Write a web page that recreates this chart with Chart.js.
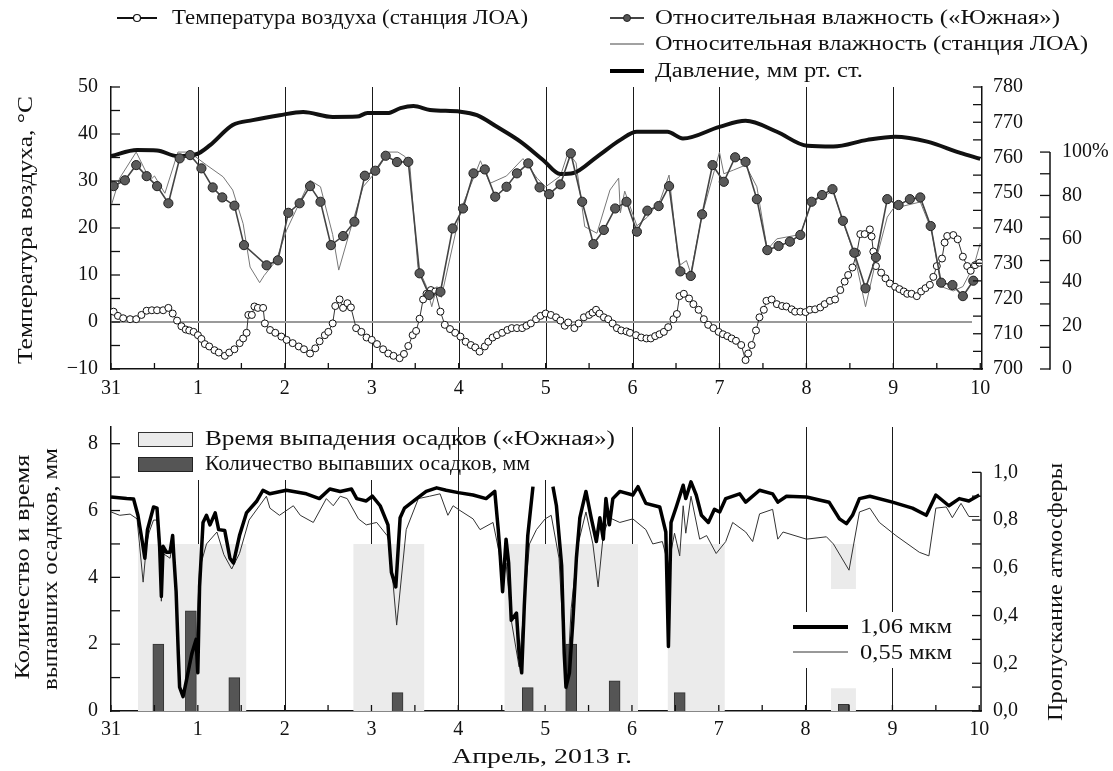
<!DOCTYPE html>
<html><head><meta charset="utf-8">
<script src="https://cdn.jsdelivr.net/npm/chart.js@4.4.1/dist/chart.umd.min.js"></script>
<style>
html,body{margin:0;padding:0;background:#fff;}
#wrap{position:relative;width:1113px;height:771px;overflow:hidden;font-family:"Liberation Serif","Times New Roman","DejaVu Serif",serif;color:#111;}
.box{position:absolute;}
.lbl{position:absolute;white-space:nowrap;font-size:20px;line-height:22px;color:#111;}
svg{position:absolute;left:0;top:0;}
</style></head><body>
<div id="wrap">
 <div class="box" style="left:0;top:0;width:1113px;height:400px"><canvas id="c1"></canvas></div>
 <div class="box" style="left:0;top:400px;width:1113px;height:371px"><canvas id="c2"></canvas></div>
 <svg width="1113" height="771" viewBox="0 0 1113 771">
  <rect x="128" y="427" width="328" height="53" fill="#fff"/>
  <rect x="462" y="427" width="158" height="53" fill="#fff"/>
  <rect x="790" y="612" width="168" height="56" fill="#fff"/>
  <line x1="117" y1="18" x2="157" y2="18" stroke="#111" stroke-width="2"/>
  <circle cx="137" cy="18" r="3.5" fill="#fff" stroke="#111" stroke-width="1.2"/>
  <line x1="610" y1="18" x2="644" y2="18" stroke="#444" stroke-width="2"/>
  <circle cx="627" cy="18" r="3.5" fill="#555" stroke="#222" stroke-width="1"/>
  <line x1="610" y1="44" x2="644" y2="44" stroke="#444" stroke-width="1"/>
  <line x1="610" y1="71" x2="644" y2="71" stroke="#000" stroke-width="4"/>
  <rect x="138.5" y="432.5" width="54" height="14" fill="#ebebeb" stroke="#333" stroke-width="1"/>
  <rect x="138.5" y="457.5" width="54" height="14" fill="#555" stroke="#222" stroke-width="1"/>
  <line x1="793" y1="627" x2="848" y2="627" stroke="#000" stroke-width="4"/>
  <line x1="793" y1="652" x2="848" y2="652" stroke="#333" stroke-width="1"/>
 </svg>
</div>
<script>
// ---------------- DATA ----------------
const dayLabels = ['31','1','2','3','4','5','6','7','8','9','10'];

const pressDays = [0,0.30,0.53,0.76,0.99,1.14,1.40,1.63,1.94,2.21,2.55,2.83,2.95,3.18,3.33,3.48,3.67,4.02,4.21,4.44,4.71,4.97,5.17,5.32,5.59,5.86,6.05,6.40,6.58,7.00,7.30,7.66,8.01,8.31,8.70,9.02,9.39,9.77,10.0];
const pressVals = [760.4,762.1,762.0,760.4,761.0,763.5,769.2,770.6,772.0,772.9,771.5,771.6,772.6,772.6,774.0,774.6,773.5,773.0,772.0,768.7,764.5,759.3,755.3,755.6,760.2,765.0,767.3,767.3,765.4,768.7,770.4,767.3,763.3,763.1,765.0,765.9,764.5,761.3,759.6];

const humSDays = [0.03,0.16,0.29,0.41,0.53,0.66,0.79,0.91,1.04,1.17,1.28,1.42,1.53,1.79,1.92,2.04,2.17,2.29,2.41,2.53,2.67,2.80,2.92,3.04,3.16,3.29,3.42,3.55,3.66,3.79,3.93,4.05,4.17,4.30,4.42,4.55,4.67,4.80,4.93,5.04,5.17,5.29,5.42,5.55,5.67,5.80,5.93,6.05,6.17,6.30,6.42,6.55,6.67,6.80,6.92,7.05,7.18,7.30,7.43,7.55,7.68,7.81,7.93,8.06,8.18,8.30,8.42,8.55,8.68,8.80,8.93,9.06,9.19,9.31,9.43,9.55,9.68,9.80,9.92];
const humSVals = [84.3,87,94,88.9,84.3,76.4,97.1,98.6,92.5,83.7,79.1,75.3,57.1,47.8,50.1,72,76.4,84.3,77.1,57.1,61.3,67.9,89.1,91.4,98.3,95.4,95.5,44.1,34.1,35.6,64.8,74,90.2,92,79.4,84,90.2,94.8,83.7,80.6,85.1,99.4,77.1,57.6,64.1,74,77.1,63.3,73,75.1,84.3,45,42.9,71.3,94,86.3,97.6,95.5,78.3,54.8,56.7,58.7,61.8,77.1,80.2,82.9,68.3,53.6,37.2,51.5,78.3,75.6,78.3,79.1,65.9,39.8,38.7,33.6,40.7];

const humLDays = [0,0.10,0.29,0.45,0.50,0.62,0.77,0.90,1.10,1.29,1.40,1.52,1.60,1.71,1.76,1.90,2.02,2.29,2.41,2.55,2.62,2.73,2.90,3.05,3.19,3.30,3.38,3.44,3.53,3.63,3.69,3.75,3.80,4.02,4.25,4.36,4.55,4.74,4.90,5.00,5.17,5.26,5.35,5.45,5.59,5.74,5.84,5.86,5.91,6.05,6.17,6.32,6.42,6.52,6.55,6.62,6.67,6.80,7.00,7.05,7.16,7.30,7.43,7.55,7.66,7.93,8.06,8.31,8.42,8.55,8.68,8.80,8.93,9.00,9.31,9.44,9.55,9.69,9.80,9.93,10.0];
const humLVals = [75,88,100,87,89,81,100,100,94,88.6,82.5,67,47,39.8,43,50,64,87,84,62,45.6,61,84,91,100,100,98,93,47,38,28.7,38,33,73,96,85.6,89,97,88,84,89,100,95,65.6,62.6,82.5,88,72,82,66,70,78,89.4,52,48,50,44,71,100,90,91.7,94,84,55,60,62,77,82,68,53,28.7,50,70,74,77,64,38,36,38,48,58];

const tempDays = [0.03,0.08,0.14,0.22,0.29,0.35,0.41,0.47,0.53,0.60,0.66,0.71,0.76,0.81,0.86,0.90,0.95,1.00,1.04,1.08,1.13,1.19,1.24,1.31,1.36,1.42,1.48,1.52,1.56,1.58,1.62,1.65,1.69,1.75,1.77,1.83,1.89,1.96,2.02,2.09,2.16,2.22,2.29,2.35,2.40,2.46,2.50,2.55,2.58,2.63,2.67,2.72,2.76,2.82,2.88,2.94,3.00,3.06,3.13,3.19,3.25,3.32,3.37,3.42,3.47,3.51,3.55,3.59,3.63,3.68,3.73,3.79,3.84,3.90,3.96,4.02,4.08,4.14,4.19,4.24,4.30,4.34,4.39,4.44,4.50,4.56,4.61,4.67,4.73,4.78,4.83,4.89,4.94,5.00,5.06,5.12,5.17,5.22,5.26,5.33,5.38,5.44,5.50,5.54,5.58,5.62,5.67,5.72,5.77,5.82,5.87,5.93,5.97,6.04,6.10,6.16,6.21,6.26,6.31,6.36,6.41,6.47,6.51,6.54,6.59,6.65,6.70,6.76,6.82,6.87,6.93,6.99,7.04,7.09,7.14,7.19,7.25,7.30,7.33,7.37,7.42,7.46,7.51,7.54,7.60,7.66,7.72,7.77,7.83,7.87,7.93,7.99,8.04,8.10,8.16,8.21,8.27,8.33,8.39,8.44,8.48,8.53,8.58,8.62,8.67,8.73,8.75,8.77,8.80,8.86,8.91,8.96,9.02,9.07,9.12,9.16,9.21,9.27,9.32,9.37,9.42,9.46,9.50,9.56,9.59,9.62,9.69,9.74,9.80,9.85,9.89,9.94,9.99];
const tempVals = [2.2,1.3,0.8,0.6,0.6,1.5,2.4,2.5,2.5,2.5,3.0,1.8,0.3,-0.9,-1.6,-1.8,-2.1,-2.8,-3.6,-4.7,-5.2,-6.0,-6.5,-7.2,-6.5,-5.8,-4.5,-3.5,-2.3,1.5,1.5,3.3,3.0,3.0,-0.3,-1.7,-2.3,-3.1,-3.8,-4.5,-5.2,-5.8,-6.7,-5.6,-4.1,-2.8,-2.1,-0.3,3.4,4.8,3.0,4.0,3.1,-1.3,-2.1,-3.3,-3.8,-4.7,-5.8,-6.7,-7.2,-7.7,-6.8,-5.1,-2.8,-1.9,0.7,4.8,6.0,6.8,6.5,2.2,-0.6,-1.5,-2.3,-3.1,-4.2,-4.9,-5.4,-6.3,-5.2,-4.2,-3.3,-2.8,-2.3,-1.7,-1.3,-1.3,-1.3,-0.8,-0.3,0.6,1.3,1.8,1.5,1.0,0.3,-0.8,-0.1,-1.3,-0.3,1.0,1.5,2.0,2.6,1.8,1.0,0.6,-0.3,-1.3,-1.8,-2.0,-2.3,-2.8,-3.3,-3.5,-3.5,-3.0,-2.6,-2.1,-1.1,0.6,1.7,5.5,6.0,5.0,3.8,2.6,0.6,-0.6,-1.3,-2.1,-2.6,-3.0,-3.5,-4.0,-4.9,-8.1,-6.7,-4.9,-1.8,1.0,2.6,4.5,4.8,3.8,3.4,3.3,2.7,2.2,2.2,2.1,2.6,2.7,3.1,3.8,4.5,4.8,6.8,8.6,10.0,11.6,14.7,18.7,18.7,19.7,18.2,15.0,11.9,10.5,9.3,8.2,7.5,7.0,6.5,6.0,6.0,5.5,6.5,7.2,7.9,9.6,11.9,13.5,16.9,18.3,18.5,17.6,13.9,11.9,10.9,12.1,12.6];

const t106Days = [0,0.18,0.26,0.31,0.36,0.39,0.42,0.49,0.53,0.56,0.58,0.60,0.64,0.68,0.71,0.725,0.75,0.775,0.79,0.83,0.87,0.93,0.98,1.00,1.02,1.06,1.10,1.14,1.20,1.24,1.31,1.37,1.41,1.48,1.56,1.68,1.75,1.83,2.02,2.25,2.40,2.52,2.64,2.77,2.83,2.94,3.01,3.10,3.19,3.23,3.28,3.33,3.38,3.52,3.63,3.75,3.86,4.00,4.17,4.32,4.42,4.46,4.48,4.51,4.55,4.58,4.61,4.67,4.70,4.73,4.76,4.80,4.86,4.97,5.09,5.13,5.19,5.22,5.24,5.28,5.32,5.36,5.40,5.47,5.53,5.59,5.63,5.67,5.70,5.74,5.78,5.86,6.01,6.07,6.16,6.32,6.39,6.42,6.45,6.51,6.59,6.62,6.68,6.74,6.80,6.88,6.95,7.01,7.08,7.24,7.31,7.47,7.62,7.68,7.78,8.01,8.27,8.39,8.47,8.54,8.62,8.74,9.00,9.23,9.39,9.50,9.65,9.77,9.88,10.0];
const t106Vals = [0.897,0.89,0.888,0.82,0.71,0.64,0.76,0.855,0.85,0.69,0.48,0.69,0.665,0.665,0.735,0.64,0.50,0.24,0.10,0.06,0.13,0.24,0.30,0.16,0.52,0.79,0.82,0.78,0.83,0.76,0.756,0.64,0.62,0.735,0.83,0.88,0.925,0.91,0.925,0.91,0.89,0.93,0.92,0.93,0.89,0.88,0.90,0.86,0.78,0.58,0.52,0.81,0.85,0.89,0.92,0.935,0.925,0.915,0.905,0.89,0.92,0.76,0.665,0.50,0.72,0.62,0.38,0.41,0.24,0.16,0.44,0.735,0.94,null,0.94,0.86,0.61,0.24,0.10,0.16,0.38,0.64,0.81,0.92,0.81,0.71,0.81,0.72,0.89,0.78,0.89,0.92,0.905,0.94,0.87,0.855,0.75,0.27,0.79,0.855,0.946,0.89,0.96,0.905,0.82,0.79,0.845,0.834,0.89,0.91,0.875,0.925,0.91,0.875,0.90,0.897,0.875,0.805,0.785,0.82,0.89,0.90,0.875,0.85,0.82,0.905,0.86,0.89,0.88,0.905];

const t055Days = [0,0.10,0.22,0.30,0.37,0.41,0.44,0.49,0.53,0.56,0.58,0.60,0.68,0.71,0.75,0.79,0.83,0.87,0.93,0.98,1.02,1.10,1.22,1.30,1.39,1.48,1.59,1.71,1.79,1.83,1.94,2.10,2.18,2.33,2.48,2.56,2.64,2.72,2.85,2.94,3.06,3.18,3.21,3.29,3.40,3.54,3.67,3.79,3.88,3.94,4.02,4.17,4.25,4.40,4.47,4.51,4.55,4.61,4.70,4.76,4.82,4.90,5.00,5.07,5.16,5.22,5.25,5.30,5.38,5.47,5.55,5.61,5.67,5.74,5.86,6.01,6.16,6.24,6.35,6.42,6.49,6.55,6.59,6.62,6.68,6.78,6.86,6.97,7.08,7.16,7.31,7.39,7.47,7.62,7.68,7.74,8.01,8.24,8.32,8.50,8.62,8.74,8.85,9.04,9.31,9.42,9.50,9.62,9.69,9.79,9.88,10.0];
const t055Vals = [0.834,0.82,0.825,0.805,0.54,0.70,0.75,0.80,0.80,0.66,0.46,0.66,0.64,0.70,0.48,0.10,0.06,0.12,0.22,0.28,0.595,0.70,0.75,0.655,0.595,0.66,0.80,0.86,0.90,0.85,0.82,0.86,0.82,0.79,0.89,0.86,0.90,0.89,0.805,0.78,0.79,0.735,0.70,0.36,0.76,0.89,0.90,0.91,0.82,0.86,0.84,0.805,0.76,0.79,0.665,0.52,0.62,0.38,0.185,0.45,0.70,0.76,0.805,0.82,0.64,0.24,0.09,0.43,0.70,0.834,0.70,0.52,0.74,0.81,0.79,0.805,0.76,0.70,0.71,0.61,0.745,0.65,0.86,0.745,0.90,0.72,0.735,0.66,0.71,0.79,0.75,0.71,0.826,0.845,0.72,0.75,0.72,0.73,0.70,0.59,0.834,0.85,0.79,0.735,0.665,0.65,0.85,0.855,0.81,0.87,0.815,0.815];

const precDays = [0.545,0.92,1.42,3.30,4.80,5.30,5.80,6.55,8.44];
const precVals = [2.0,3.0,1.0,0.55,0.7,2.0,0.9,0.55,0.2];

const rainStart = [0.31,2.79,4.53,6.41,8.29,8.29];
const rainEnd   = [1.56,3.61,6.07,7.07,8.58,8.58];
const rainLow   = [0,0,0,0,3.65,0];
const rainHigh  = [5,5,5,5,5,0.68];

// ---------------- HELPERS ----------------
const pts = (xs, ys) => xs.map((x, i) => ({x, y: ys[i]}));
const dayLines = [1,2,3,4,5,6,7,8,9];

Chart.defaults.font.family = '"Liberation Serif", "Times New Roman", "DejaVu Serif", serif';
Chart.defaults.font.size = 20;
Chart.defaults.color = '#111';

const axisDecor = {
  id: 'axisDecor',
  beforeDatasetsDraw(chart, args, o) {
    const {ctx, chartArea: ca, scales} = chart;
    ctx.save();
    ctx.strokeStyle = '#1a1a1a'; ctx.lineWidth = 1;
    for (const d of o.dayLines) {
      const px = Math.round(scales.x.getPixelForValue(d)) + 0.5;
      ctx.beginPath(); ctx.moveTo(px, ca.top); ctx.lineTo(px, ca.bottom); ctx.stroke();
    }
    if (o.zero) {
      const py = scales[o.zero.scale].getPixelForValue(o.zero.value);
      ctx.strokeStyle = '#9a9a9a'; ctx.lineWidth = 2;
      ctx.beginPath(); ctx.moveTo(ca.left, py); ctx.lineTo(ca.right - 10, py); ctx.stroke();
    }
    ctx.restore();
  },
  afterDraw(chart, args, o) {
    const {ctx, chartArea: ca, scales} = chart;
    ctx.save(); ctx.strokeStyle = '#111';
    for (const m of o.marks) {
      const s = scales[m.scale];
      const n = Math.round((m.to - m.from) / m.step);
      ctx.lineWidth = 1.3;
      for (let i = 0; i <= n; i++) {
        const v = m.from + i * m.step;
        const p = s.getPixelForValue(v);
        ctx.beginPath();
        if (m.side === 'bottom') { ctx.moveTo(p, ca.bottom); ctx.lineTo(p, ca.bottom - m.len); }
        else {
          const x0 = m.side === 'left' ? ca.left : (m.side === 'right' ? ca.right : s.left);
          const dir = m.side === 'left' ? 1 : -1;
          ctx.moveTo(x0, p); ctx.lineTo(x0 + dir * m.len, p);
        }
        ctx.stroke();
      }
      if (m.spine) {
        const x0 = m.side === 'right' ? ca.right : s.left;
        ctx.lineWidth = 1.5;
        ctx.beginPath();
        ctx.moveTo(x0, s.getPixelForValue(m.from) + 0.75);
        ctx.lineTo(x0, s.getPixelForValue(m.to));
        ctx.stroke();
      }
    }
    ctx.restore();
  }
};

const xAxis = (pad, h) => ({
  type: 'linear', min: 0, max: 10.02, position: 'bottom', offset: false,
  grid: {display: false, drawTicks: false},
  border: {display: true, color: '#111', width: 1.5},
  ticks: {stepSize: 1, includeBounds: false, autoSkip: false, maxRotation: 0, padding: pad,
          callback: v => Number.isInteger(v) ? dayLabels[v] : ''},
  afterFit: s => { s.height = h; }
});

// ---------------- TOP CHART ----------------
new Chart(document.getElementById('c1'), {
  type: 'line',
  data: {datasets: [
    {label: 'Относительная влажность («Южная»)', data: pts(humSDays, humSVals), yAxisID: 'yH',
     borderColor: '#444', borderWidth: 1.6, pointRadius: 4.6, pointBackgroundColor: '#5a5a5a',
     pointBorderColor: '#222', pointBorderWidth: 1, tension: 0, order: 1},
    {label: 'Давление, мм рт. ст.', data: pts(pressDays, pressVals), yAxisID: 'yP',
     borderColor: '#111', borderWidth: 4, pointRadius: 0, cubicInterpolationMode: 'monotone', order: 2},
    {label: 'Температура воздуха (станция ЛОА)', data: pts(tempDays, tempVals), yAxisID: 'yT',
     borderColor: '#333', borderWidth: 1, pointRadius: 3.5, pointBackgroundColor: '#fff',
     pointBorderColor: '#111', pointBorderWidth: 1, tension: 0, order: 3},
    {label: 'Относительная влажность (станция ЛОА)', data: pts(humLDays, humLVals), yAxisID: 'yH',
     borderColor: '#777', borderWidth: 1, pointRadius: 0, tension: 0, order: 4}
  ]},
  options: {
    responsive: true, maintainAspectRatio: false, animation: false, devicePixelRatio: 1,
    layout: {padding: {top: 87, left: 0, right: 0, bottom: 0}},
    plugins: {legend: {display: false}, tooltip: {enabled: false},
      axisDecor: {dayLines, zero: {scale: 'yT', value: 0}, marks: [
        {scale: 'x', side: 'bottom', from: 0, to: 10, step: 0.5, len: 6},
        {scale: 'yT', side: 'left', from: -10, to: 50, step: 5, len: 9},
        {scale: 'yP', side: 'right', from: 700, to: 780, step: 5, len: 9},
        {scale: 'yH', side: 'outer', from: 0, to: 100, step: 10, len: 10, spine: true}
      ]}},
    scales: {
      x: xAxis(8, 31),
      yT: {type: 'linear', position: 'left', min: -10, max: 50,
           grid: {display: false, drawTicks: false}, border: {display: true, color: '#111', width: 1.5},
           ticks: {stepSize: 10, padding: 13, callback: v => v < 0 ? '\u2212' + Math.abs(v) : String(v)},
           afterFit: s => { s.width = 111; }},
      yP: {type: 'linear', position: 'right', weight: 0, min: 700, max: 780,
           grid: {display: false, drawTicks: false}, border: {display: true, color: '#111', width: 1.5},
           ticks: {stepSize: 10, padding: 11}, afterFit: s => { s.width = 68; }},
      yH: {type: 'linear', position: 'right', weight: 1, min: 0, max: 130,
           grid: {display: false, drawTicks: false}, border: {display: false},
           ticks: {stepSize: 20, padding: 12, callback: v => v > 100 ? '' : (v === 100 ? '100%' : String(v))},
           afterFit: s => { s.width = 63; }}
    }
  },
  plugins: [axisDecor]
});

// ---------------- BOTTOM CHART ----------------
const rainSets = rainStart.map((s, i) => ({
  type: 'line', label: i === 0 ? 'Время выпадения осадков («Южная»)' : '',
  data: [{x: s, y: rainLow[i]}, {x: s, y: rainHigh[i]}, {x: rainEnd[i], y: rainHigh[i]}, {x: rainEnd[i], y: rainLow[i]}],
  yAxisID: 'yR', fill: {value: rainLow[i]}, backgroundColor: '#ebebeb',
  borderColor: 'rgba(0,0,0,0)', borderWidth: 0, pointRadius: 0, tension: 0, order: 10
}));

new Chart(document.getElementById('c2'), {
  type: 'line',
  data: {datasets: [
    ...rainSets,
    {type: 'bar', label: 'Количество выпавших осадков, мм', data: pts(precDays, precVals), yAxisID: 'yR',
     backgroundColor: '#555', borderColor: '#333', borderWidth: 1, barThickness: 11, order: 5},
    {label: '0,55 мкм', data: pts(t055Days, t055Vals), yAxisID: 'yTr', borderColor: '#333',
     borderWidth: 1, pointRadius: 0, tension: 0, order: 2},
    {label: '1,06 мкм', data: pts(t106Days, t106Vals), yAxisID: 'yTr', borderColor: '#000',
     borderWidth: 3.5, pointRadius: 0, tension: 0, spanGaps: false, borderJoinStyle: 'round', order: 1}
  ]},
  options: {
    responsive: true, maintainAspectRatio: false, animation: false, devicePixelRatio: 1,
    layout: {padding: {top: 27, left: 0, right: 0, bottom: 0}},
    plugins: {legend: {display: false}, tooltip: {enabled: false},
      axisDecor: {dayLines, marks: [
        {scale: 'x', side: 'bottom', from: 0, to: 10, step: 0.5, len: 6},
        {scale: 'yR', side: 'left', from: 0, to: 8, step: 1, len: 9},
        {scale: 'yTr', side: 'right', from: 0, to: 1.0, step: 0.1, len: 9, spine: true}
      ]}},
    scales: {
      x: xAxis(7, 60),
      yR: {type: 'linear', position: 'left', min: 0, max: 8.5,
           grid: {display: false, drawTicks: false}, border: {display: true, color: '#111', width: 1.5},
           ticks: {stepSize: 2, includeBounds: false, padding: 13}, afterFit: s => { s.width = 111; }},
      yTr: {type: 'linear', position: 'right', min: 0, max: 1.19,
           grid: {display: false, drawTicks: false}, border: {display: false},
           ticks: {stepSize: 0.2, includeBounds: false, padding: 12,
                   callback: v => v > 1.0001 ? '' : v.toFixed(1).replace('.', ',')},
           afterFit: s => { s.width = 132; }}
    }
  },
  plugins: [axisDecor]
});

// ---------------- TEXT (legends, titles) ----------------
const wrap = document.getElementById('wrap');
function label(text, o) {
  const d = document.createElement('div');
  d.className = 'lbl'; d.textContent = text; wrap.appendChild(d);
  const w = d.getBoundingClientRect().width;
  const s = o.w / w;
  if (o.rot) {
    d.style.left = o.cx + 'px'; d.style.top = o.cy + 'px';
    d.style.transform = 'translate(-50%,-50%) rotate(-90deg) scaleX(' + s + ')';
  } else {
    d.style.left = o.x + 'px'; d.style.top = (o.cy - 12) + 'px';
    d.style.transformOrigin = '0 50%';
    d.style.transform = 'scaleX(' + s + ')';
  }
}
label('Температура воздуха (станция ЛОА)', {x: 172, cy: 18, w: 356});
label('Относительная влажность («Южная»)', {x: 655, cy: 18, w: 405});
label('Относительная влажность (станция ЛОА)', {x: 655, cy: 44, w: 433});
label('Давление, мм рт. ст.', {x: 655, cy: 71, w: 208});
label('Время выпадения осадков («Южная»)', {x: 205, cy: 439, w: 410});
label('Количество выпавших осадков, мм', {x: 205, cy: 464, w: 325});
label('1,06 мкм', {x: 860, cy: 627, w: 92});
label('0,55 мкм', {x: 860, cy: 653, w: 92});
label('Апрель, 2013 г.', {x: 452, cy: 757, w: 180});
label('Температура воздуха, °С', {rot: true, cx: 25, cy: 230, w: 268});
label('Количество и время', {rot: true, cx: 22, cy: 567, w: 225});
label('выпавших осадков, мм', {rot: true, cx: 50, cy: 569, w: 242});
label('Пропускание атмосферы', {rot: true, cx: 1055, cy: 592, w: 258});
</script>
</body></html>
